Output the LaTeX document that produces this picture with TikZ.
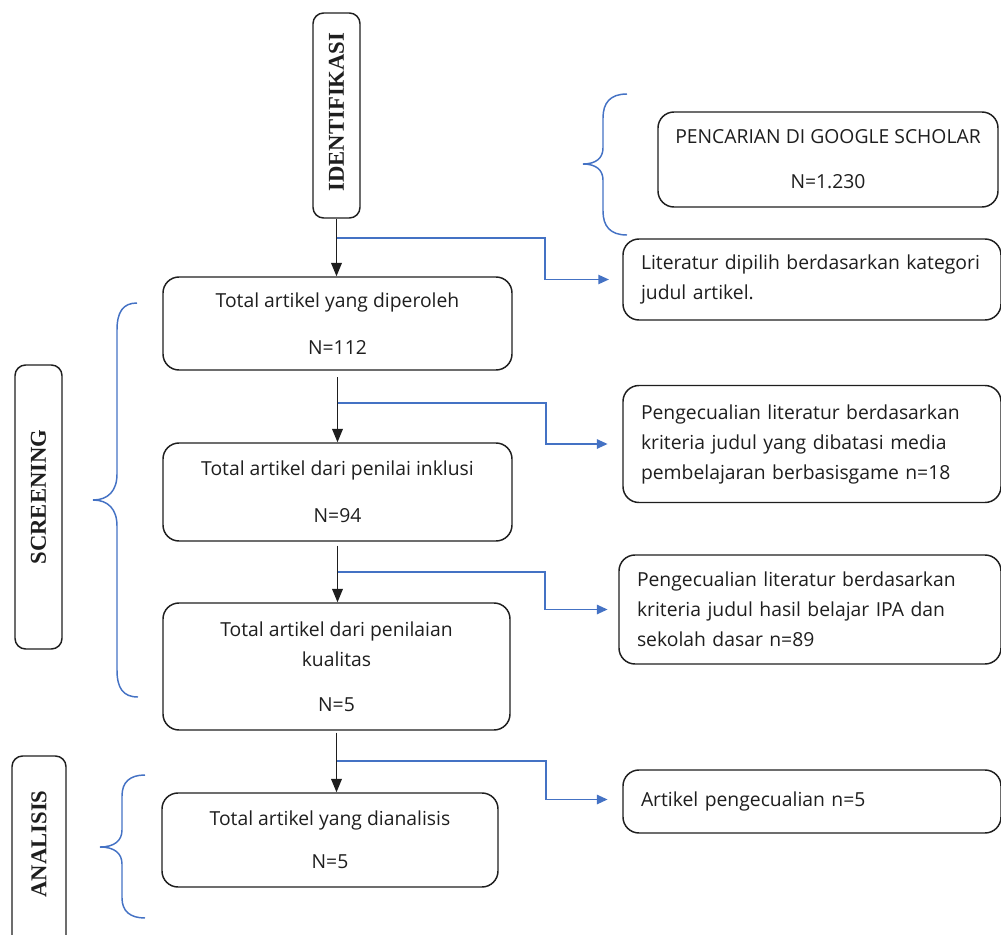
\documentclass[tikz,border=0pt]{standalone}
\usepackage{fontspec}
\setmainfont{Open Sans}
\newfontfamily\vfont{Liberation Serif}
\usepackage{graphicx}
\usetikzlibrary{arrows.meta}
\definecolor{bracecol}{RGB}{68,114,196}
\definecolor{inkcol}{RGB}{30,30,30}
\def\pxu{0.75pt}
\tikzset{
  every node/.style={font=\fontsize{14.5}{22.5}\selectfont, text=inkcol},
  box/.style={draw=inkcol, line width=1.1pt, rounded corners=12pt, inner sep=0pt, align=center},
  sidebox/.style={draw=inkcol, line width=1.1pt, rounded corners=12pt, inner ysep=0pt, inner xsep=13.5pt, align=left},
  vbox/.style={draw=inkcol, line width=1.1pt, rounded corners=8pt, inner sep=0pt},
  vtext/.style={font=\vfont\bfseries\fontsize{17}{20}\selectfont, inner sep=0pt},
  flow/.style={draw=inkcol, line width=1pt, -{Triangle[length=10pt,width=8pt]}},
  sub/.style={draw=bracecol, line width=1.2pt, -{Triangle[length=8pt,width=7pt]}},
  bracel/.style={draw=bracecol, line width=1.1pt},
}
\begin{document}
\begin{tikzpicture}[x=0.75pt,y=-0.75pt]
\useasboundingbox (0,0) rectangle (1001,935);
\clip (0,0) rectangle (1001,935);

% stage labels
\node[vbox, minimum width=47*\pxu, minimum height=205*\pxu] (ident) at (336.5,115.5) {};
\node[vtext] (identT) at (336.5,112) {\rotatebox{90}{IDENTIFIKASI}};
\node[vbox, minimum width=47*\pxu, minimum height=284*\pxu] (screen) at (38.5,507) {};
\node[vtext] (screenT) at (38.5,497) {\rotatebox{90}{SCREENING}};
\node[vbox, minimum width=54*\pxu, minimum height=204*\pxu] (analisis) at (39,858) {};
\node[vtext] (analisisT) at (39,844) {\rotatebox{90}{ANALISIS}};

% main flow boxes
\node[box, minimum width=349*\pxu, minimum height=93*\pxu] (b1) at (337.5,323.5) {Total artikel yang diperoleh\\[12.75pt]N=112};
\node[box, minimum width=349*\pxu, minimum height=98*\pxu] (b2) at (337.5,492) {Total artikel dari penilai inklusi\\[12.75pt]N=94};
\node[box, minimum width=347*\pxu, minimum height=127*\pxu] (b3) at (336.5,666.5) {Total artikel dari penilaian\\kualitas\\[11.25pt]N=5};
\node[box, minimum width=336*\pxu, minimum height=94*\pxu] (b4) at (330,840) {Total artikel yang dianalisis\\[9.75pt]N=5};

% side boxes
\node[box, minimum width=340*\pxu, minimum height=95*\pxu] (gs) at (828,159.5) {PENCARIAN DI GOOGLE SCHOLAR\\[11.25pt]N=1.230};
\node[sidebox, minimum width=374*\pxu, minimum height=81*\pxu, text width=374*\pxu-24pt] (lit) at (812,279.5) {Literatur dipilih berdasarkan kategori\\judul artikel.};
\node[sidebox, minimum width=374*\pxu, minimum height=117*\pxu, text width=374*\pxu-24pt] (p1) at (812,444) {Pengecualian literatur berdasarkan\\kriteria judul yang dibatasi media\\pembelajaran berbasisgame n=18};
\node[sidebox, minimum width=378*\pxu, minimum height=109*\pxu, text width=378*\pxu-24pt] (p2) at (810,609.5) {Pengecualian literatur berdasarkan\\kriteria judul hasil belajar IPA dan\\sekolah dasar n=89};
\node[sidebox, minimum width=374*\pxu, minimum height=63*\pxu, text width=374*\pxu-24pt] (ap) at (812,801.5) {Artikel pengecualian n=5\\[6pt]};

% braces
\path[bracel] (627,94) .. controls (610,94) and (603,103) .. (603,118) -- (603,148)
  .. controls (603,158) and (596,164) .. (583,164)
  .. controls (596,164) and (603,170) .. (603,180) -- (603,211)
  .. controls (603,226) and (610,235) .. (627,235);
\path[bracel] (137,303) .. controls (123,303) and (117,312) .. (117,330) -- (117,474)
  .. controls (117,491) and (108,500) .. (93,500)
  .. controls (108,500) and (117,509) .. (117,526) -- (117,670)
  .. controls (117,688) and (123,697) .. (138,697);
\path[bracel] (145,775) .. controls (130,775) and (122,782) .. (122,796) -- (122,830)
  .. controls (122,841) and (114,847) .. (100,847)
  .. controls (114,847) and (122,853) .. (122,864) -- (122,898)
  .. controls (122,911) and (130,918) .. (145,918);

% main flow arrows
\draw[flow] (ident.south) -- (ident.south |- b1.north);
\draw[flow] ([yshift=-5pt]b1.south) -- (b1.south |- b2.north);
\draw[flow] ([yshift=-3pt]b2.south) -- (b2.south |- b3.north);
\draw[flow] ([yshift=-1.5pt]b3.south) -- (b3.south |- b4.north);

% exclusion arrows
\coordinate (s1) at (336.5,238); \coordinate (k1) at (545,238);
\coordinate (s2) at (337.5,403); \coordinate (k2) at (546,403);
\coordinate (s3) at (337.5,572); \coordinate (k3) at (545,572);
\coordinate (s4) at (336.5,761); \coordinate (k4) at (546,761);
\draw[sub, shorten >=10pt] (s1) -- (k1) |- (lit.west);
\draw[sub, shorten >=11pt] (s2) -- (k2) |- (p1.west);
\draw[sub, shorten >=8pt] (s3) -- (k3) |- (p2.west);
\draw[sub, shorten >=11pt] (s4) -- (k4) |- ([yshift=1.5pt]ap.west);
\end{tikzpicture}
\end{document}
